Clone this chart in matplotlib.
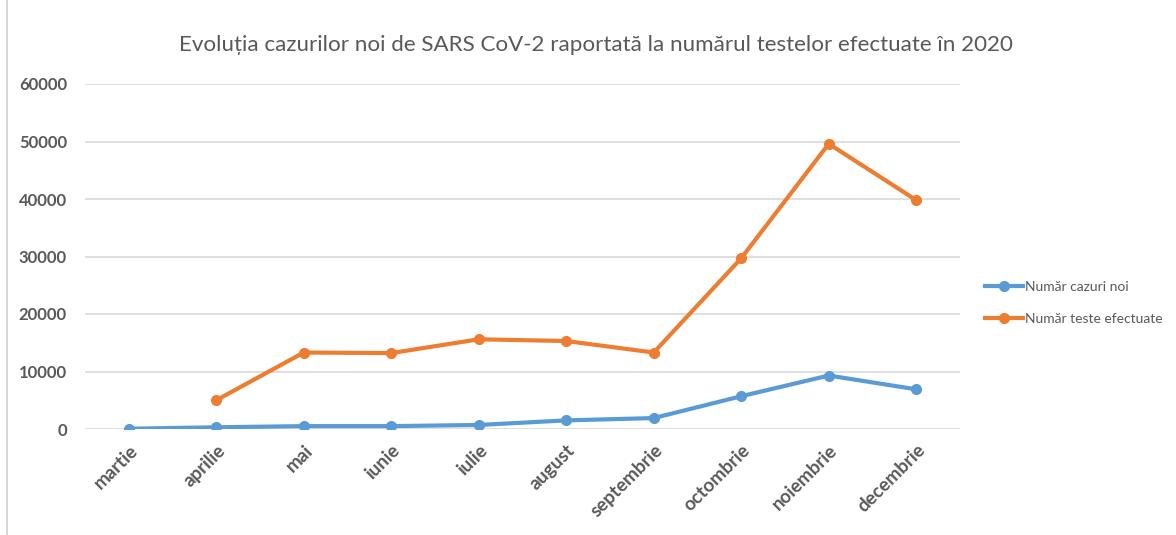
import matplotlib
matplotlib.use("Agg")
import matplotlib.pyplot as plt
import numpy as np
from matplotlib.lines import Line2D

months = ["martie", "aprilie", "mai", "iunie", "iulie", "august",
          "septembrie", "octombrie", "noiembrie", "decembrie"]
cazuri_noi = [50, 300, 500, 500, 700, 1500, 1900, 5700, 9300, 6900]
teste_efectuate = [np.nan, 5000, 13300, 13200, 15600, 15300, 13300, 29700, 49600, 39800]
yticks = [0, 10000, 20000, 30000, 40000, 50000, 60000]

title = "Evoluția cazurilor noi de SARS CoV-2 raportată la numărul testelor efectuate în 2020"
label_cazuri = "Număr cazuri noi"
label_teste = "Număr teste efectuate"

BLUE = "#5B9BD5"
ORANGE = "#ED7D31"
GRAY = "#595959"
GRID = "#D9D9D9"

plt.rcParams["font.family"] = ["Lato", "DejaVu Sans"]

fig = plt.figure(figsize=(11.76, 5.35), dpi=100)
ax = fig.add_axes([85/1176, 1-429/535, (960-85)/1176, (429-84)/535])

x = np.arange(len(months))
ax.plot(x, cazuri_noi, color=BLUE, lw=3, marker="o", ms=7, label=label_cazuri,
        solid_capstyle="round", zorder=3)
ax.plot(x, teste_efectuate, color=ORANGE, lw=3, marker="o", ms=7, label=label_teste,
        solid_capstyle="round", zorder=3)

ax.set_xlim(-0.5, len(months)-0.5)
ax.set_ylim(0, 60000)
ax.set_yticks(yticks)
ax.set_yticklabels([str(v) for v in yticks], fontsize=12, fontweight="bold", color=GRAY)
ax.set_xticks(x)
ax.set_xticklabels(months, rotation=45, ha="right", va="top", rotation_mode="anchor",
                   fontsize=13.5, fontweight="bold", color=GRAY)
ax.tick_params(axis="both", length=0)
ax.tick_params(axis="y", pad=13)
ax.tick_params(axis="x", pad=9)
for s in ax.spines.values():
    s.set_visible(False)
ax.grid(axis="y", color=GRID, lw=1.2)
ax.set_axisbelow(True)

fig.text(596/1176, 1-45/535, title, ha="center", va="center", fontsize=16.1, color=GRAY)

handles = [Line2D([0], [0], color=BLUE, lw=3, marker="o", ms=7),
           Line2D([0], [0], color=ORANGE, lw=3, marker="o", ms=7)]
fig.legend(handles, [label_cazuri, label_teste], loc="center left",
           bbox_to_anchor=(973/1176, 1-303/535), frameon=False, fontsize=10,
           labelcolor=GRAY, handlelength=2.7, handletextpad=0.15, labelspacing=1.4)

fig.add_artist(Line2D([7/1176, 7/1176], [0, 1], color="#D0D0D0", lw=1.2))

fig.savefig("out.png", dpi=100, facecolor="white")
